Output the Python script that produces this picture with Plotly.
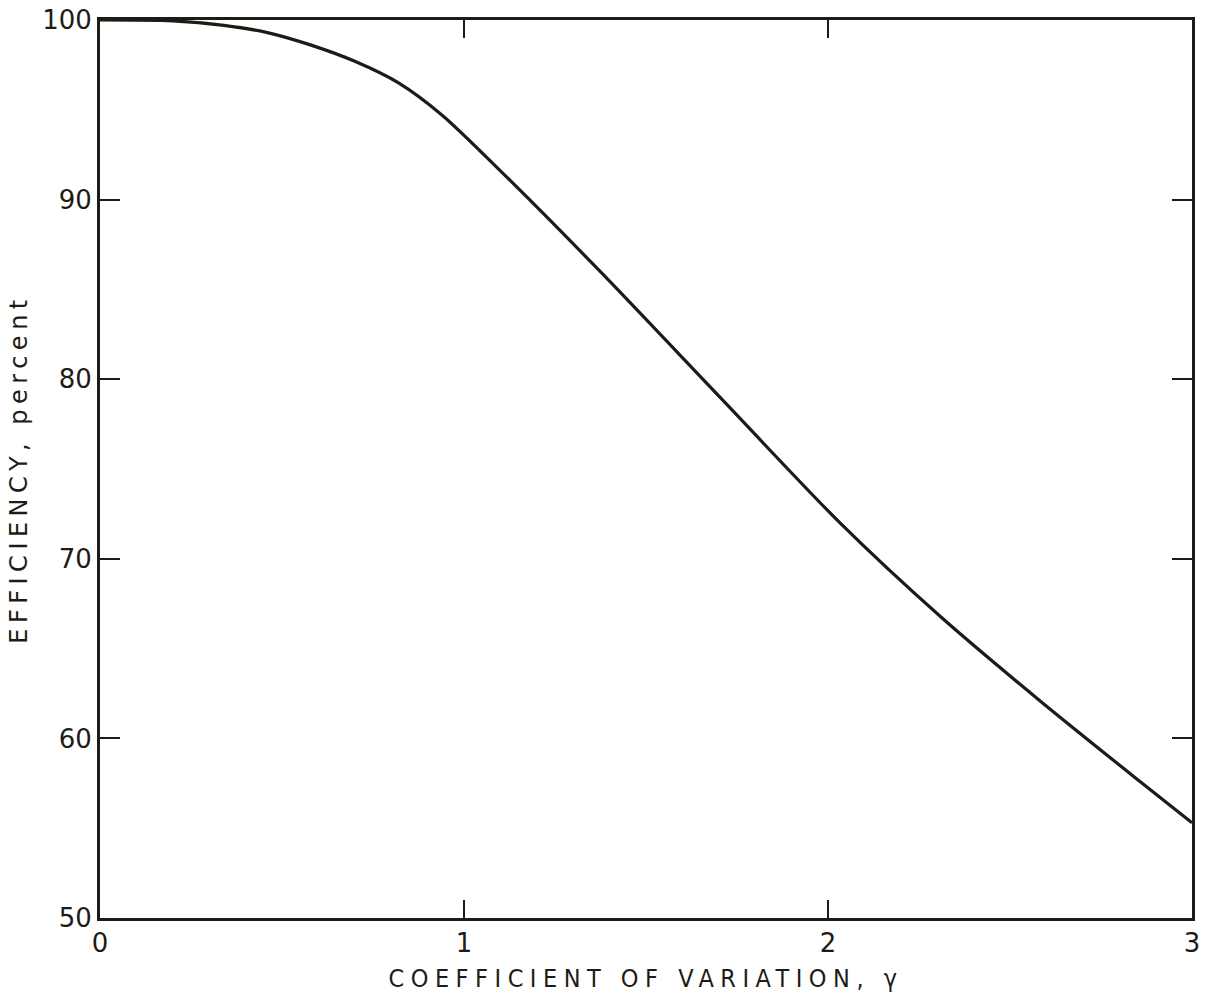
import plotly.graph_objects as go

# Efficiency versus coefficient of variation
gamma = [0.0, 0.2, 0.34, 0.46, 0.58, 0.7, 0.82, 0.94, 1.1,
         1.374, 1.703, 2.033, 2.308, 2.582, 2.857, 3.0]
efficiency = [100.0, 99.95, 99.7, 99.3, 98.6, 97.7, 96.5, 94.7, 91.6,
              86.0, 79.0, 72.0, 66.8, 62.1, 57.6, 55.3]

x_ticks = [0, 1, 2, 3]
x_labels = ["0", "1", "2", "3"]
y_ticks = [50, 60, 70, 80, 90, 100]
y_labels = ["50", "60", "70", "80", "90", "100"]

ink = "#1e1b16"

fig = go.Figure()
fig.add_trace(go.Scatter(
    x=gamma, y=efficiency, mode="lines",
    line=dict(color=ink, width=3.2, shape="spline", smoothing=0.8),
    showlegend=False, hoverinfo="skip",
))

axis_font = dict(family="DejaVu Sans", size=26, color=ink)

fig.update_layout(
    width=1209, height=998,
    margin=dict(l=100, r=17, t=20, b=80, autoexpand=False),
    paper_bgcolor="white", plot_bgcolor="white",
    xaxis=dict(
        range=[0, 3], tickvals=x_ticks, ticktext=x_labels,
        showline=True, linewidth=3, linecolor=ink, mirror="ticks",
        ticks="inside", ticklen=18, tickwidth=2, tickcolor=ink,
        showgrid=False, zeroline=False, tickfont=axis_font, automargin=False,
        title=dict(text='<span style="letter-spacing:6.5px">COEFFICIENT OF VARIATION, γ</span>',
                   font=dict(family="DejaVu Sans Condensed", size=25, color=ink),
                   standoff=13),
    ),
    yaxis=dict(
        range=[50, 100], tickvals=y_ticks, ticktext=y_labels,
        showline=True, linewidth=3, linecolor=ink, mirror="ticks",
        ticks="inside", ticklen=20, tickwidth=2, tickcolor=ink,
        showgrid=False, zeroline=False, tickfont=axis_font, automargin=False,
        title=dict(text='<span style="letter-spacing:5.5px">EFFICIENCY, percent</span>',
                   font=dict(family="DejaVu Sans", size=24, color=ink),
                   standoff=8),
    ),
)

fig.write_html("out.html")
